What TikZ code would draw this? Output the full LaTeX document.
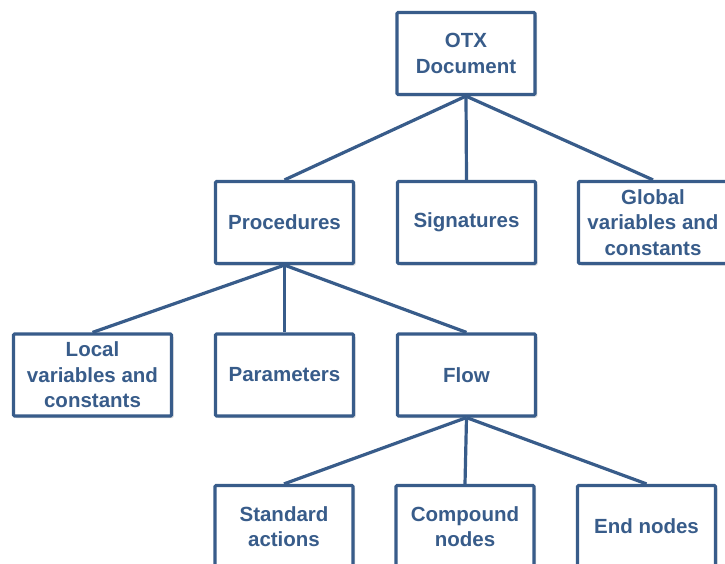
\documentclass[tikz,border=0pt]{standalone}
\usepackage{fontspec}
\setmainfont{Liberation Sans}
\usetikzlibrary{shadows}
\definecolor{otxblue}{RGB}{56,92,138}
\tikzset{
  box/.style={draw=otxblue, fill=white, line width=3.2pt, text=otxblue,
    rounded corners=1.2pt,
    font=\fontsize{20.5}{25.5}\selectfont\bfseries, align=center,
    minimum width=138pt, minimum height=82pt, inner sep=2pt,
    drop shadow={shadow xshift=2pt, shadow yshift=-2pt, fill=black, opacity=0.15}},
  link/.style={draw=otxblue, line width=3.2pt}
}
\begin{document}
\begin{tikzpicture}[x=1pt,y=-1pt]
\useasboundingbox (0,0) rectangle (725,564);
\clip (0,0) rectangle (725,564);
\node[box] (otx) at (466,53.5) {OTX\\Document};
\node[box] (proc) at (284.5,222.5) {Procedures};
\node[box] (sig) at (466.5,222.5) {Signatures};
\node[box, minimum width=149pt] (glob) at (653,222.5) {Global\\variables and\\constants};
\node[box, minimum width=158pt] (loc) at (92.5,375) {Local\\variables and\\constants};
\node[box] (par) at (284.5,375) {Parameters};
\node[box] (flow) at (466.5,375) {Flow};
\node[box] (std) at (284,526.5) {Standard\\actions};
\node[box] (comp) at (465,526.5) {Compound\\nodes};
\node[box] (endn) at (646.5,526.5) {End nodes};
\draw[link] (otx.south) -- (proc.north);
\draw[link] (otx.south) -- (sig.north);
\draw[link] (otx.south) -- (glob.north);
\draw[link] (proc.south) -- (loc.north);
\draw[link] (proc.south) -- (par.north);
\draw[link] (proc.south) -- (flow.north);
\draw[link] (flow.south) -- (std.north);
\draw[link] (flow.south) -- (comp.north);
\draw[link] (flow.south) -- (endn.north);
\end{tikzpicture}
\end{document}
